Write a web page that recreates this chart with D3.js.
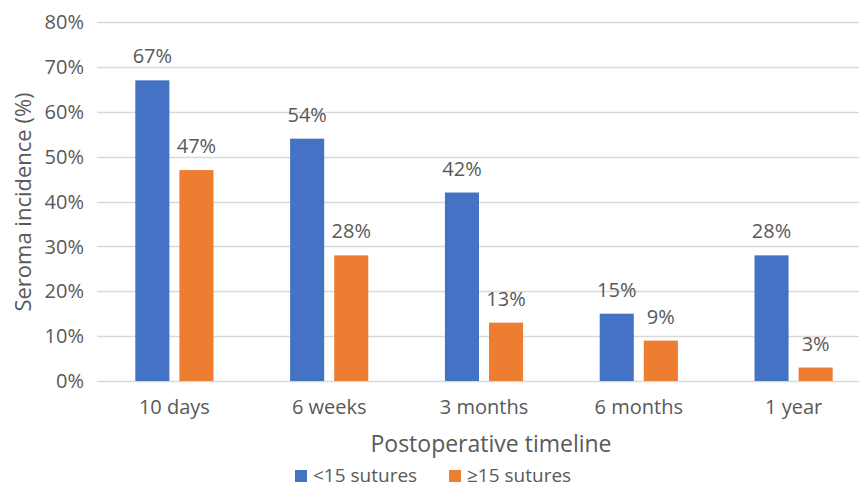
<!DOCTYPE html>
<html>
<head>
<meta charset="utf-8">
<script src="https://cdn.jsdelivr.net/npm/d3@7"></script>
<style>
  body { margin: 0; background: #fff; }
  svg { display: block; font-family: "Open Sans", sans-serif; }
</style>
</head>
<body>
<svg id="chart" width="859" height="489"></svg>
<script>
// data
var categories = ["10 days", "6 weeks", "3 months", "6 months", "1 year"];
var series = ["<15 sutures", "\u226515 sutures"];
var lessThan15 = [67, 54, 42, 15, 28];
var atLeast15 = [47, 28, 13, 9, 3];
var yTicks = [0, 10, 20, 30, 40, 50, 60, 70, 80];
var colors = ["#4472C4", "#ED7D31"];

var width = 859, height = 489;
var margin = {left: 97, right: -12, top: 22, bottom: 108};
var textColor = "#595959";

var svg = d3.select("#chart");

var x0 = d3.scaleBand()
    .domain(categories)
    .range([margin.left, width - margin.right])
    .paddingInner(0.495)
    .paddingOuter(0.2475);

var x1 = d3.scaleBand()
    .domain(series)
    .range([0, x0.bandwidth()])
    .paddingInner(0.227);

var y = d3.scaleLinear()
    .domain([0, 80])
    .range([height - margin.bottom, margin.top]);

var rows = categories.map(function(c, i) {
    return {cat: c, vals: [lessThan15[i], atLeast15[i]]};
});

// gridlines
svg.append("g")
    .selectAll("line")
    .data(yTicks)
    .join("line")
    .attr("x1", margin.left)
    .attr("x2", width)
    .attr("y1", function(d){ return Math.round(y(d)) + 0.5; })
    .attr("y2", function(d){ return Math.round(y(d)) + 0.5; })
    .attr("stroke", "#D9D9D9")
    .attr("stroke-width", 1.5);

// y tick labels
svg.append("g")
    .selectAll("text")
    .data(yTicks)
    .join("text")
    .attr("x", margin.left - 13)
    .attr("y", function(d){ return y(d); })
    .attr("dy", "0.36em")
    .attr("text-anchor", "end")
    .attr("font-size", 20)
    .attr("fill", textColor)
    .text(function(d){ return d + "%"; });

// bars
var groups = svg.append("g")
    .selectAll("g")
    .data(rows)
    .join("g")
    .attr("transform", function(d){ return "translate(" + x0(d.cat) + ",0)"; });

groups.selectAll("rect")
    .data(function(d){ return d.vals.map(function(v, i){ return {s: series[i], v: v, i: i}; }); })
    .join("rect")
    .attr("x", function(d){ return x1(d.s); })
    .attr("width", x1.bandwidth())
    .attr("y", function(d){ return y(d.v); })
    .attr("height", function(d){ return y(0) - y(d.v); })
    .attr("fill", function(d){ return colors[d.i]; });

groups.selectAll("text")
    .data(function(d){ return d.vals.map(function(v, i){ return {s: series[i], v: v}; }); })
    .join("text")
    .attr("x", function(d){ return x1(d.s) + x1.bandwidth() / 2; })
    .attr("y", function(d){ return y(d.v) - 17; })
    .attr("text-anchor", "middle")
    .attr("font-size", 20)
    .attr("fill", textColor)
    .text(function(d){ return d.v + "%"; });

// x tick labels
svg.append("g")
    .selectAll("text")
    .data(categories)
    .join("text")
    .attr("x", function(d){ return x0(d) + x0.bandwidth() / 2; })
    .attr("y", 414)
    .attr("text-anchor", "middle")
    .attr("font-size", 20)
    .attr("fill", textColor)
    .text(function(d){ return d; });

// axis titles
svg.append("text")
    .attr("x", 491)
    .attr("y", 452)
    .attr("text-anchor", "middle")
    .attr("font-size", 23)
    .attr("fill", textColor)
    .text("Postoperative timeline");

svg.append("text")
    .attr("transform", "translate(31,202) rotate(-90)")
    .attr("text-anchor", "middle")
    .attr("font-size", 22)
    .attr("fill", textColor)
    .text("Seroma incidence (%)");

// legend
var legendX = [295, 449];
var legend = svg.append("g")
    .selectAll("g")
    .data(series)
    .join("g")
    .attr("transform", function(d, i){ return "translate(" + legendX[i] + ",470)"; });

legend.append("rect")
    .attr("width", 12)
    .attr("height", 12)
    .attr("fill", function(d, i){ return colors[i]; });

legend.append("text")
    .attr("x", 18)
    .attr("y", 12)
    .attr("font-size", 19)
    .attr("fill", textColor)
    .text(function(d){ return d; });
</script>
</body>
</html>
